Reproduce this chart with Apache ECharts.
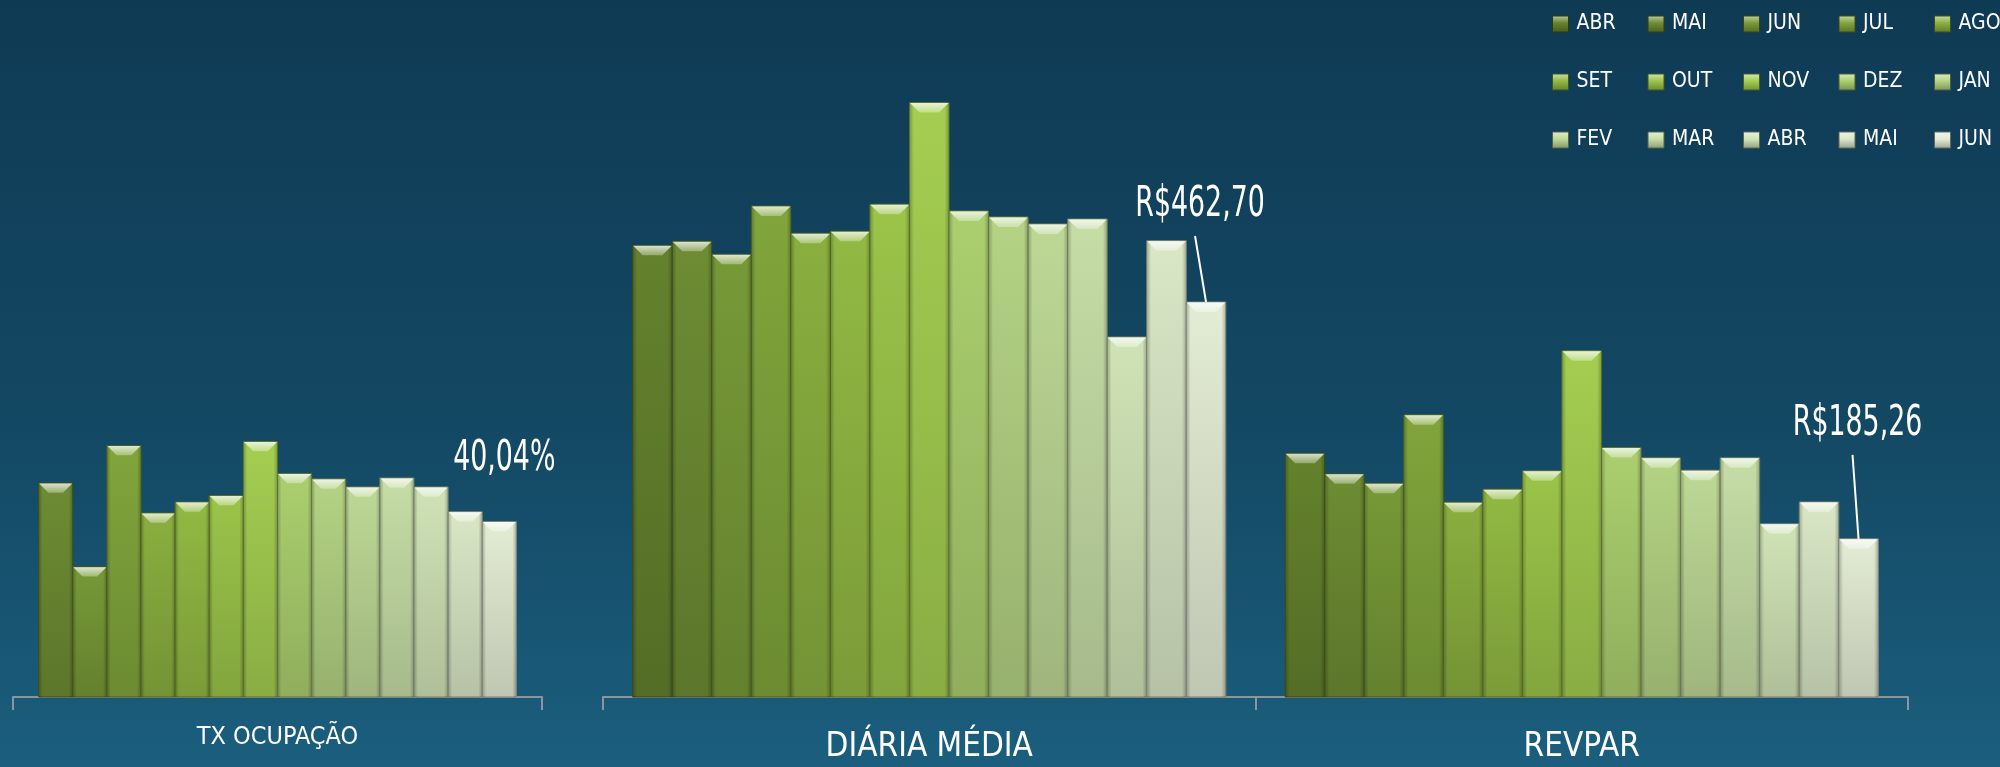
<!DOCTYPE html>
<html>
<head>
<meta charset="utf-8">
<script src="https://cdn.jsdelivr.net/npm/echarts@6.0.0/dist/echarts.min.js"></script>
<style>
  html, body { margin: 0; padding: 0; }
  #chart { width: 2000px; height: 767px; }
</style>
</head>
<body>
<div id="chart"></div>
<script>
// meses (legenda) - ABR..JUN do ano seguinte
const months = ['ABR', 'MAI', 'JUN', 'JUL', 'AGO', 'SET', 'OUT', 'NOV', 'DEZ', 'JAN', 'FEV', 'MAR', 'ABR', 'MAI', 'JUN'];
const txCategories = ['TX OCUPAÇÃO'];
const moneyCategories = ['DIÁRIA MÉDIA', 'REVPAR'];

// valores
const txOcupacao = [null, 48.88, 29.76, 57.40, 42.03, 44.54, 45.98, 58.31, 51.00, 49.79, 47.96, 50.02, 47.96, 42.32, 40.04];
const diariaMedia = [529.1, 533.8, 518.6, 575.2, 543.2, 545.5, 577.2, 696.2, 569.3, 562.3, 554.1, 559.9, 421.7, 534.5, 462.70];
const revpar = [285.6, 261.4, 250.5, 330.5, 228.2, 243.4, 264.9, 405.5, 292.2, 280.1, 265.7, 280.1, 202.8, 228.5, 185.26];

const palette = ['#64822d', '#6d8c33', '#779937', '#81a53b', '#8aaf3f', '#92b943', '#9bc449', '#a4ce51',
  '#abcf6e', '#b4d383', '#bdd895', '#c6dda6', '#d0e3b6', '#d9e7c6', '#e3ecd4'];

const FONT = '"Liberation Sans Narrow", "Arial Narrow", "DejaVu Sans Condensed", sans-serif';

function hexRgb(h) {
  return [parseInt(h.slice(1, 3), 16), parseInt(h.slice(3, 5), 16), parseInt(h.slice(5, 7), 16)];
}
function shade(h, f) {
  const c = hexRgb(h).map(v => Math.round(v * f));
  return 'rgb(' + c.join(',') + ')';
}
function mix(h, t) {
  const c = hexRgb(h).map(v => Math.round(v + (255 - v) * t));
  return 'rgb(' + c.join(',') + ')';
}
const LG = echarts.graphic.LinearGradient;

const brl = v => 'R$' + v.toFixed(2).replace('.', ',');
const pct = v => v.toFixed(2).replace('.', ',') + '%';

function makeRender(slots, slot, col, gap, labels) {
  return function (params, api) {
    const cat = api.value(0);
    const val = api.value(1);
    const base = api.coord([cat, 0]);
    const top = api.coord([cat, val]);
    const band = api.size([1, 0])[0];
    const inner = band * (1 - gap);
    const w = inner / slots;
    const x = base[0] - inner / 2 + slot * w;
    const y = top[1];
    const h = base[1] - y;
    const c = Math.min(10, w / 3.5);
    const children = [
      {
        type: 'rect',
        shape: { x: x, y: y, width: w, height: h },
        style: {
          fill: new LG(0, 0, 0, 1, [{ offset: 0, color: col }, { offset: 1, color: shade(col, 0.84) }]),
          stroke: shade(col, 0.55),
          lineWidth: 1
        }
      },
      {
        type: 'rect',
        silent: true,
        shape: { x: x + 0.5, y: y, width: w - 1, height: h },
        style: {
          fill: new LG(0, 0, 1, 0, [
            { offset: 0, color: 'rgba(0,0,0,0.22)' },
            { offset: 0.1, color: 'rgba(0,0,0,0)' },
            { offset: 0.9, color: 'rgba(0,0,0,0)' },
            { offset: 1, color: 'rgba(0,0,0,0.22)' }
          ])
        }
      },
      {
        type: 'polygon',
        silent: true,
        shape: { points: [[x + 0.5, y + 0.5], [x + w - 0.5, y + 0.5], [x + w - c, y + c], [x + c, y + c]] },
        style: {
          fill: new LG(0, 0, 0, 1, [{ offset: 0, color: mix(col, 0.75) }, { offset: 1, color: mix(col, 0.3) }])
        }
      }
    ];
    const lab = labels && labels[cat];
    if (lab) {
      const cx = x + w / 2;
      const lx = cx + lab.dx;
      const ly = y - lab.rise;
      children.push({
        type: 'text',
        x: lx,
        y: ly,
        scaleX: 0.71,
        style: {
          text: lab.fmt(val), x: 0, y: 0, align: 'center', verticalAlign: 'middle',
          fill: '#ffffff', fontSize: 42, fontFamily: FONT
        }
      });
      if (lab.line) {
        children.push({
          type: 'line',
          shape: { x1: lx - 5, y1: ly + 31, x2: cx, y2: y },
          style: { stroke: '#ffffff', lineWidth: 2 }
        });
      }
    }
    return { type: 'group', children: children };
  };
}

const txSlots = txOcupacao.filter(v => v != null).length;
const series = [];
months.forEach((m, k) => {
  const key = m + '|' + k;
  const last = k === months.length - 1;
  series.push({
    type: 'custom',
    name: key,
    xAxisIndex: 1,
    yAxisIndex: 1,
    itemStyle: { color: palette[k] },
    encode: { x: 0, y: 1 },
    data: moneyCategories.map((c, i) => [i, [diariaMedia, revpar][i][k]]),
    renderItem: makeRender(months.length, k, palette[k], 0.091, last ? {
      0: { dx: -6, rise: 97, fmt: brl, line: true },
      1: { dx: -1, rise: 115, fmt: brl, line: true }
    } : null)
  });
  if (txOcupacao[k] != null) {
    const slot = txOcupacao.slice(0, k).filter(v => v != null).length;
    series.push({
      type: 'custom',
      name: key,
      xAxisIndex: 0,
      yAxisIndex: 0,
      itemStyle: { color: palette[k] },
      encode: { x: 0, y: 1 },
      data: txCategories.map((c, i) => [i, txOcupacao[k]]),
      renderItem: makeRender(txSlots, slot, palette[k], 0.097, last ? {
        0: { dx: 5, rise: 63, fmt: pct, line: false }
      } : null)
    });
  }
});

const axisStyle = {
  axisLine: { lineStyle: { color: '#8b959c', width: 2 } },
  axisTick: { show: true, length: 13, lineStyle: { color: '#8b959c', width: 2 } }
};

const myChart = echarts.init(document.getElementById('chart'));
const option = {
  backgroundColor: new LG(0, 0, 0, 1, [
    { offset: 0, color: '#0f3a54' },
    { offset: 0.55, color: '#134863' },
    { offset: 1, color: '#1b5e7e' }
  ]),
  animation: false,
  legend: {
    data: months.map((m, k) => ({
      name: m + '|' + k,
      itemStyle: {
        color: new LG(0, 0, 0, 1, [{ offset: 0, color: mix(palette[k], 0.55) }, { offset: 0.45, color: palette[k] }, { offset: 1, color: shade(palette[k], 0.7) }]),
        borderColor: shade(palette[k], 0.45),
        borderWidth: 1
      }
    })),
    formatter: name => name.split('|')[0],
    left: 1552,
    top: 2,
    width: 500,
    padding: 0,
    icon: 'rect',
    itemWidth: 16,
    itemHeight: 16,
    itemGap: 14,
    selectedMode: false,
    textStyle: { color: '#ffffff', fontSize: 21, fontFamily: FONT, width: 57, lineHeight: 44, padding: [0, 0, 0, 3] }
  },
  grid: [
    { left: 13, width: 529, top: 259, bottom: 70 },
    { left: 603, width: 1305, top: 14, bottom: 70 }
  ],
  xAxis: [
    Object.assign({
      type: 'category', gridIndex: 0, data: txCategories,
      axisLabel: { color: '#ffffff', fontSize: 25, fontFamily: FONT, margin: 28 }
    }, axisStyle),
    Object.assign({
      type: 'category', gridIndex: 1, data: moneyCategories,
      axisLabel: { color: '#ffffff', fontSize: 33, fontFamily: FONT, margin: 34 }
    }, axisStyle)
  ],
  yAxis: [
    { type: 'value', gridIndex: 0, min: 0, max: 100, show: false },
    { type: 'value', gridIndex: 1, min: 0, max: 800, show: false }
  ],
  series: series
};
myChart.setOption(option);
window.onresize = function () {
  myChart.resize();
};
</script>
</body>
</html>
